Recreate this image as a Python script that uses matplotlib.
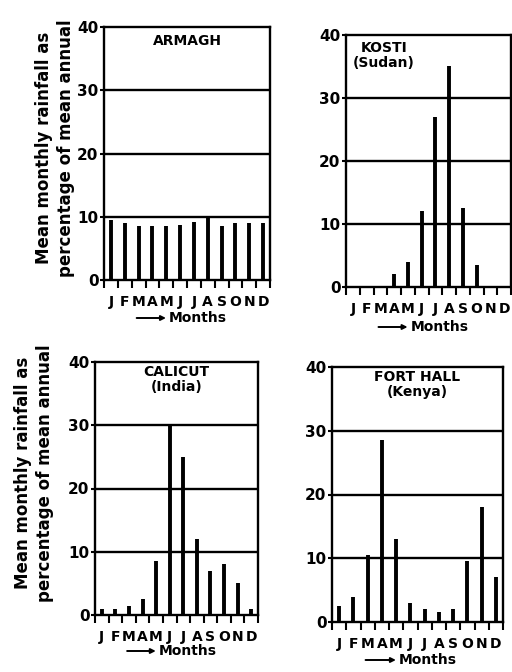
import matplotlib.pyplot as plt
import numpy as np

# Mean monthly rainfall as % of mean annual, Jan..Dec
month_letters = ["J", "F", "M", "A", "M", "J", "J", "A", "S", "O", "N", "D"]
armagh = [9.5, 9.0, 8.5, 8.5, 8.5, 8.7, 9.2, 9.8, 8.5, 9.0, 9.0, 9.0]
kosti = [0, 0, 0, 2.0, 4.0, 12.0, 27.0, 35.0, 12.5, 3.5, 0, 0]
calicut = [1.0, 1.0, 1.5, 2.5, 8.5, 30.0, 25.0, 12.0, 7.0, 8.0, 5.0, 1.0]
fort_hall = [2.5, 4.0, 10.5, 28.5, 13.0, 3.0, 2.0, 1.5, 2.0, 9.5, 18.0, 7.0]
y_ticks = [0, 10, 20, 30, 40]

W, H = 512, 672
plt.rcParams['font.family'] = ['DejaVu Sans']
plt.rcParams['font.weight'] = 'bold'
fig = plt.figure(figsize=(W / 100, H / 100), dpi=100)


def px_axes(left, top, right, bottom):
    return fig.add_axes([left / W, 1 - bottom / H, (right - left) / W, (bottom - top) / H])


def panel(ax, values, title, title_x, title_top, bottom_px):
    x = np.arange(12) + 0.5
    ax.vlines(x, 0, values, colors="black", linewidth=2.8)
    for y in y_ticks[1:-1]:
        ax.axhline(y, color="black", linewidth=1.7)
    ax.set_xlim(0, 12)
    ax.set_ylim(0, 40)
    for s in ax.spines.values():
        s.set_linewidth(1.7)
    ax.set_yticks(y_ticks)
    ax.set_yticklabels([str(v) for v in y_ticks], fontsize=11, fontweight="bold")
    ax.tick_params(axis="y", direction="out", length=3, width=1.5, pad=1)
    ax.set_xticks(np.arange(13))
    ax.set_xticklabels([])
    ax.tick_params(axis="x", direction="out", length=6, width=1.5)
    h = ax.get_position().height * H
    # month letters and "Months" arrow label, placed in pixels below the axis
    for i, m in enumerate(month_letters):
        ax.text(i + 0.5, -22 / h * 40, m, ha="center", va="center", fontsize=10,
                fontweight="bold", clip_on=False)
    y_m = -bottom_px / h
    ax.annotate("", xy=(0.39, y_m), xytext=(0.18, y_m), xycoords="axes fraction",
                arrowprops=dict(arrowstyle="-|>", color="black", lw=1.4,
                                mutation_scale=7))
    ax.text(0.39, y_m, "Months", transform=ax.transAxes, ha="left", va="center",
            fontsize=10, fontweight="bold")
    ax.text(title_x, 1 - title_top / h, title, transform=ax.transAxes, ha="center",
            va="top", fontsize=10, fontweight="bold", linespacing=1.05)


ylabel = "Mean monthly rainfall as\npercentage of mean annual"

ax1 = px_axes(104, 27, 270, 280)
panel(ax1, armagh, "ARMAGH", 0.5, 7, 38)
fig.text(55 / W, 1 - 148 / H, ylabel, rotation=90, ha="center", va="center",
         fontsize=12, fontweight="bold", linespacing=1.25)

ax2 = px_axes(346, 35, 511, 287)
panel(ax2, kosti, "KOSTI\n(Sudan)", 0.23, 6, 40)

ax3 = px_axes(95, 362, 258, 615)
panel(ax3, calicut, "CALICUT\n(India)", 0.5, 3, 36)
fig.text(34 / W, 1 - 473 / H, ylabel, rotation=90, ha="center", va="center",
         fontsize=12, fontweight="bold", linespacing=1.25)

ax4 = px_axes(332, 367, 503, 622)
panel(ax4, fort_hall, "FORT HALL\n(Kenya)", 0.5, 3, 38)

fig.savefig("out.png", dpi=100)
